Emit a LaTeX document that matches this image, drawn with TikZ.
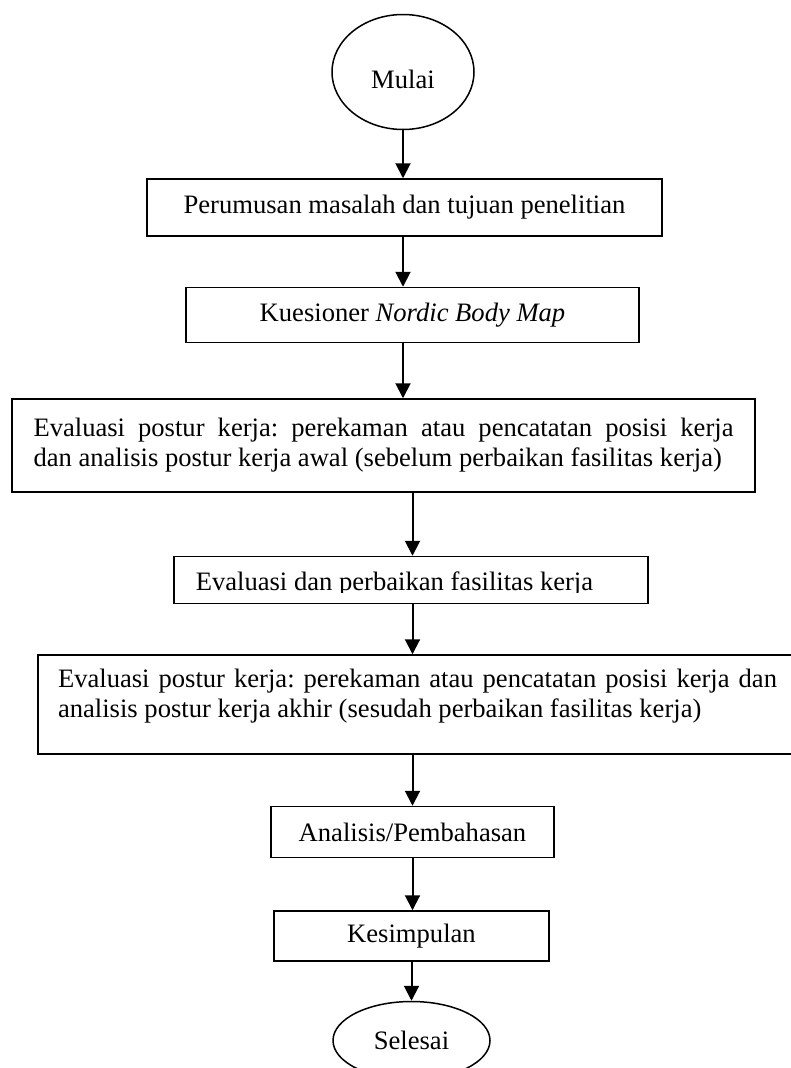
\documentclass[tikz,border=0pt]{standalone}
\usepackage{fontspec}
\setmainfont{Liberation Serif}
\usetikzlibrary{shapes.geometric, arrows.meta, positioning}
\frenchspacing

\begin{document}
\begin{tikzpicture}[
    x=1pt, y=-1pt,
    every node/.style={font=\fontsize{26.6pt}{30pt}\selectfont},
    terminal/.style={ellipse, draw=black, line width=1.5pt, inner sep=0pt},
    process/.style={rectangle, draw=black, line width=1.5pt, inner sep=0pt, text centered},
    arrow/.style={-{Triangle[width=15pt, length=15pt]}, line width=2pt}
]
\useasboundingbox (0,0) rectangle (791,1068);

% Start
\node[terminal, minimum width=142pt, minimum height=115pt, text height=34pt] (mulai) at (403,72) {Mulai};

% Steps
\node[process, minimum width=515pt, minimum height=57pt, below=48pt of mulai, xshift=1.5pt] (perumusan) {Perumusan masalah dan tujuan penelitian};
\node[process, minimum width=453pt, minimum height=55pt, below=50pt of perumusan, xshift=8pt] (kuesioner) {Kuesioner \textit{Nordic Body Map}};
\node[process, minimum width=743pt, minimum height=93pt, text width=700pt, align=justify, below=55pt of kuesioner, xshift=-29pt] (evalawal) {Evaluasi postur kerja: perekaman atau pencatatan posisi kerja\linebreak dan analisis postur kerja awal (sebelum perbaikan fasilitas kerja)};
\node[process, minimum width=474pt, minimum height=47pt, below=63pt of evalawal, xshift=27.5pt,
    path picture={
        \clip ([yshift=11.5pt]path picture bounding box.south west) rectangle (path picture bounding box.north east);
        \node[anchor=base west, inner sep=0pt, minimum width=0pt, minimum height=0pt, align=left] (perbaikantext) at ([xshift=21pt, yshift=13pt]path picture bounding box.south west) {Evaluasi dan perbaikan fasilitas kerja};
    }] (perbaikan) {};
\node[process, minimum width=759pt, minimum height=99pt, text width=719pt, text depth=52pt, align=justify, below=50pt of perbaikan, xshift=6.5pt] (evalakhir) {Evaluasi postur kerja: perekaman atau pencatatan posisi kerja dan\linebreak analisis postur kerja akhir (sesudah perbaikan fasilitas kerja)};
\node[process, minimum width=283pt, minimum height=51pt, below=51pt of evalakhir, xshift=-5pt] (analisis) {Analisis/Pembahasan};
\node[process, minimum width=275pt, minimum height=50pt, below=52pt of analisis, xshift=-1pt] (kesimpulan) {Kesimpulan};

% End
\node[terminal, minimum width=157pt, minimum height=78pt, below=39pt of kesimpulan] (selesai) {Selesai};

% Arrows
\draw[arrow] (mulai.south) -- (perumusan.north -| mulai.south);
\draw[arrow] (perumusan.south -| mulai.south) -- (kuesioner.north -| mulai.south);
\draw[arrow] (kuesioner.south -| mulai.south) -- (evalawal.north -| mulai.south);
\draw[arrow] (evalawal.south -| analisis.north) -- (perbaikan.north -| analisis.north);
\draw[arrow] (perbaikan.south -| analisis.north) -- (evalakhir.north -| analisis.north);
\draw[arrow] (evalakhir.south -| analisis.north) -- (analisis.north);
\draw[arrow] (analisis.south) -- (kesimpulan.north -| analisis.south);
\draw[arrow] (kesimpulan.south) -- (selesai.north);

\end{tikzpicture}
\end{document}
